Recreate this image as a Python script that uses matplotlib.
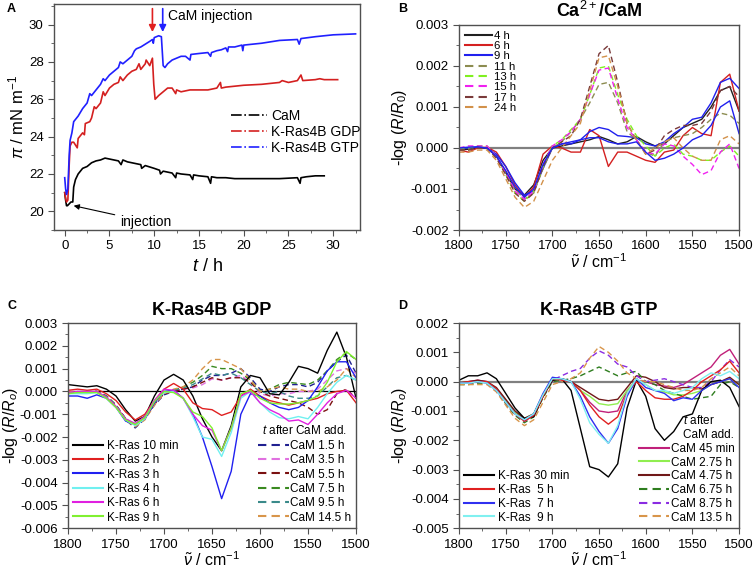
import numpy as np
import matplotlib
matplotlib.use("Agg")
import matplotlib.pyplot as plt
from matplotlib.lines import Line2D
from matplotlib.ticker import MultipleLocator, FormatStrFormatter

plt.rcParams['font.family'] = ['Liberation Sans', 'DejaVu Sans']
plt.rcParams['mathtext.fontset'] = 'custom'
plt.rcParams['mathtext.rm'] = 'Liberation Sans'
plt.rcParams['mathtext.it'] = 'Liberation Sans:italic'
plt.rcParams['mathtext.bf'] = 'Liberation Sans:bold'

# ---------------- panel A: surface pressure vs time ----------------
cam_trace = [(0.0, 21.0), (0.1, 20.6), (0.2, 20.3), (0.3, 20.3), (0.5, 20.4), (0.7, 20.5),
             (0.9, 20.5), (1.0, 21.3), (1.2, 21.7), (1.5, 22.0), (2.0, 22.3), (2.5, 22.4),
             (3.0, 22.6), (3.5, 22.7), (4.0, 22.75), (4.5, 22.85), (5.0, 22.8), (5.5, 22.75),
             (6.0, 22.7), (6.3, 22.5), (6.5, 22.75), (7.0, 22.65), (7.5, 22.6), (8.0, 22.55),
             (8.5, 22.5), (8.6, 22.3), (9.0, 22.45), (10.0, 22.3), (10.6, 22.2), (10.7, 22.0),
             (11.0, 22.15), (12.0, 22.05), (12.4, 21.8), (12.5, 22.05), (13.0, 22.0), (14.0, 21.95),
             (14.3, 21.7), (14.4, 21.95), (15.0, 21.9), (16.0, 21.85), (16.3, 21.5), (16.4, 21.85),
             (17.0, 21.8), (18.0, 21.8), (19.0, 21.75), (20.0, 21.75), (22.0, 21.75), (24.0, 21.75),
             (26.0, 21.8), (26.3, 21.5), (26.4, 21.8), (27.0, 21.85), (28.0, 21.9), (29.0, 21.9)]

gdp_trace = [(0.0, 21.0), (0.1, 20.7), (0.2, 20.5), (0.35, 20.6), (0.5, 22.5), (0.6, 23.5),
             (0.8, 23.7), (1.0, 23.7), (1.4, 23.4), (1.5, 23.9), (2.0, 24.2), (2.2, 24.1),
             (2.3, 24.7), (2.8, 24.8), (3.0, 25.0), (3.3, 25.6), (3.5, 25.5), (4.0, 25.8),
             (4.3, 26.4), (4.5, 26.2), (5.0, 26.6), (5.5, 26.8), (6.0, 26.9), (6.2, 27.2),
             (6.5, 27.0), (7.0, 27.3), (7.5, 27.5), (8.0, 27.6), (8.3, 27.9), (8.5, 27.6),
             (9.0, 27.9), (9.1, 28.1), (9.5, 27.8), (9.8, 28.2), (9.95, 26.8), (10.1, 26.0),
             (10.5, 26.2), (11.0, 26.4), (11.5, 26.6), (12.0, 26.6), (12.4, 26.3), (12.5, 26.5),
             (13.0, 26.4), (14.0, 26.5), (15.0, 26.5), (16.0, 26.5), (17.0, 26.6), (17.4, 26.9),
             (17.5, 26.6), (18.0, 26.65), (19.0, 26.7), (20.0, 26.75), (22.0, 26.8), (24.0, 26.9),
             (24.3, 27.0), (25.0, 26.9), (26.0, 27.0), (26.4, 27.3), (26.6, 27.0), (28.0, 27.05),
             (28.5, 27.1), (29.0, 27.05), (30.5, 27.05)]

gtp_trace = [(0.0, 21.8), (0.1, 21.2), (0.2, 20.9), (0.35, 21.2), (0.5, 23.0), (0.6, 23.8),
             (0.8, 24.2), (1.0, 24.8), (1.5, 25.1), (2.0, 25.5), (2.5, 25.8), (2.8, 26.3),
             (3.0, 26.2), (3.5, 26.5), (4.0, 26.8), (4.3, 27.1), (4.5, 27.0), (5.0, 27.3),
             (5.5, 27.5), (6.0, 27.7), (6.2, 28.0), (6.5, 27.9), (7.0, 28.1), (7.5, 28.3),
             (7.8, 28.6), (8.0, 28.7), (8.5, 28.8), (9.0, 28.95), (9.5, 29.1), (9.8, 29.2),
             (9.9, 29.0), (10.0, 29.3), (10.5, 29.4), (10.8, 29.35), (11.0, 27.8), (11.2, 27.7),
             (11.5, 27.9), (12.0, 28.1), (12.5, 28.2), (13.0, 28.3), (13.5, 28.3), (14.0, 28.1),
             (14.1, 28.4), (15.0, 28.45), (16.0, 28.5), (16.3, 28.3), (16.4, 28.5), (17.0, 28.6),
             (17.5, 28.65), (18.0, 28.75), (18.2, 28.55), (18.3, 28.8), (19.0, 28.8), (19.8, 28.9),
             (19.9, 28.6), (20.0, 28.9), (22.0, 29.0), (24.0, 29.15), (26.0, 29.2), (26.2, 28.95),
             (26.4, 29.25), (28.0, 29.35), (30.0, 29.45), (32.5, 29.5)]

# ---------------- spectra (values in 1e-3), 1800 -> 1500 cm-1 ----------------
wavenumber = np.arange(1800, 1499, -10)

b_labels = ['4 h', '6 h', '9 h', '11 h', '13 h', '15 h', '17 h', '24 h']
b_4h = [-0.05, -0.03, 0.0, 0.0, -0.2, -0.6, -1.0, -1.15, -0.9, -0.3, 0.0, 0.05, 0.1, 0.15, 0.2, 0.28,
        0.2, 0.1, 0.15, 0.28, 0.15, 0.05, 0.1, 0.3, 0.5, 0.6, 0.7, 1.0, 1.4, 1.5, 0.9]
b_6h = [-0.05, -0.1, 0.0, 0.02, -0.1, -0.45, -0.9, -1.2, -0.95, -0.15, 0.05, 0.0, -0.1, -0.1, 0.45, 0.3,
        -0.45, -0.1, -0.1, -0.2, -0.3, -0.35, -0.1, -0.05, 0.3, 0.5, 0.35, 0.3, 1.6, 1.8, 0.9]
b_9h = [0.0, 0.0, 0.02, 0.0, -0.15, -0.45, -0.85, -1.15, -1.05, -0.5, 0.0, 0.1, 0.1, 0.2, 0.4, 0.5,
        0.45, 0.3, 0.28, 0.25, 0.1, 0.05, 0.15, 0.35, 0.5, 0.7, 0.75, 1.1, 1.6, 1.7, 1.45]
b_9h_rep = [0.0, 0.02, 0.03, 0.0, -0.2, -0.55, -0.95, -1.2, -1.0, -0.4, 0.0, 0.1, 0.15, 0.2, 0.25, 0.25,
            0.15, 0.1, 0.1, 0.15, -0.1, -0.3, -0.25, -0.15, 0.0, 0.2, 0.3, 0.55, 1.0, 1.15, 0.35]
b_11h = [-0.05, -0.05, 0.0, 0.0, -0.2, -0.6, -1.0, -1.25, -1.1, -0.5, 0.0, 0.15, 0.4, 0.7, 1.1, 1.55,
         1.6, 1.1, 0.4, 0.2, -0.1, -0.2, 0.15, 0.25, 0.3, 0.35, 0.5, 0.7, 0.85, 0.8, 0.6]
b_13h = [0.0, 0.0, 0.05, 0.05, -0.2, -0.65, -1.1, -1.3, -1.05, -0.45, 0.05, 0.2, 0.45, 0.7, 1.3, 1.95,
         2.0, 1.3, 0.7, 0.3, 0.05, -0.2, 0.0, 0.1, -0.15, -0.2, -0.3, -0.3, -0.1, 0.05, -0.2]
b_15h = [0.0, 0.05, 0.05, 0.05, -0.2, -0.6, -1.05, -1.25, -1.05, -0.4, 0.05, 0.2, 0.4, 0.7, 1.3, 1.9,
         1.95, 1.2, 0.5, 0.2, -0.1, -0.15, 0.1, 0.05, -0.2, -0.4, -0.65, -0.55, -0.1, 0.1, -0.5]
b_17h = [-0.05, -0.05, 0.0, 0.0, -0.25, -0.65, -1.1, -1.3, -1.1, -0.45, 0.0, 0.15, 0.3, 0.7, 1.5, 2.3,
         2.5, 1.6, 0.6, 0.2, -0.15, -0.05, 0.3, 0.45, 0.55, 0.55, 0.6, 0.9, 1.4, 1.5, 1.25]
b_24h = [-0.1, -0.1, -0.05, -0.05, -0.3, -0.75, -1.2, -1.45, -1.3, -0.8, -0.3, 0.0, 0.3, 0.6, 1.4, 2.2,
         2.25, 1.5, 0.6, 0.2, -0.15, 0.0, 0.15, 0.25, 0.0, -0.2, -0.3, -0.3, 0.2, 0.3, 0.1]

c_labels_ras = ['K-Ras 10 min', 'K-Ras 2 h', 'K-Ras 3 h', 'K-Ras 4 h', 'K-Ras 6 h', 'K-Ras 9 h']
c_labels_cam = ['CaM 1.5 h', 'CaM 3.5 h', 'CaM 5.5 h', 'CaM 7.5 h', 'CaM 9.5 h', 'CaM 14.5 h']
c_10min = [0.3, 0.25, 0.2, 0.25, 0.1, -0.2, -0.8, -1.3, -1.1, -0.2, 0.5, 0.75, 0.5, -0.2, -1.2, -2.0,
           -2.6, -1.5, 0.2, 0.7, 0.6, -0.1, -0.15, 0.4, 1.1, 1.0, 0.8, 1.8, 2.6, 1.5, -0.3]
c_2h = [0.05, 0.1, 0.05, 0.1, -0.1, -0.4, -0.9, -1.25, -1.0, -0.4, 0.1, 0.35, 0.1, -0.5, -0.75, -0.8,
        -1.05, -0.9, -0.2, 0.1, -0.2, -0.4, -0.5, -0.6, -0.5, -0.4, -0.3, -0.1, 0.0, 0.05, -0.5]
c_3h = [-0.2, -0.2, -0.3, -0.15, -0.3, -0.7, -1.3, -1.45, -1.2, -0.5, 0.0, 0.05, -0.3, -1.0, -2.0, -3.3,
        -4.7, -3.5, -1.0, -0.1, -0.2, -0.5, -0.7, -0.8, -0.7, -0.4, 0.2, 0.9, 1.3, 1.3, 0.6]
c_4h = [-0.1, -0.1, -0.1, -0.05, -0.3, -0.7, -1.25, -1.5, -1.2, -0.4, -0.05, 0.0, -0.3, -1.1, -2.0, -2.1,
        -2.85, -1.8, -0.3, 0.0, -0.5, -0.9, -1.15, -1.2, -1.1, -1.2, -0.7, -0.1, 0.4, 0.7, 0.5]
c_6h = [-0.05, 0.0, 0.0, 0.0, -0.25, -0.65, -1.2, -1.4, -1.1, -0.4, 0.1, 0.05, -0.3, -1.0, -1.5, -1.7,
        -2.6, -1.6, -0.2, 0.0, -0.5, -0.8, -1.0, -1.3, -1.25, -1.45, -1.0, -0.5, -0.1, 0.05, -0.3]
c_9h = [-0.1, -0.05, -0.05, -0.05, -0.3, -0.7, -1.25, -1.45, -1.15, -0.45, 0.0, -0.05, -0.3, -0.9, -1.1, -1.6,
        -2.6, -1.6, -0.1, 0.05, -0.3, -0.5, -0.55, -0.55, -0.5, -0.4, -0.2, 0.4, 1.3, 1.75, 1.4]
c_cam15 = [0.0, -0.05, -0.05, 0.0, -0.25, -0.65, -1.25, -1.6, -1.2, -0.6, -0.15, 0.0, 0.1, 0.2, 0.5, 0.7,
           0.7, 0.8, 1.0, 0.6, 0.1, 0.0, 0.2, 0.3, 0.3, 0.2, 0.4, 0.9, 1.3, 1.6, 0.8]
c_cam35 = [0.0, 0.0, -0.05, 0.0, -0.2, -0.6, -1.2, -1.5, -1.15, -0.55, -0.1, 0.0, 0.1, 0.15, 0.3, 0.55,
           0.5, 0.6, 0.7, 0.4, -0.1, -0.2, -0.1, -0.1, 0.0, 0.0, 0.1, 0.5, 0.9, 1.0, 0.8]
c_cam55 = [0.0, -0.05, -0.05, 0.0, -0.2, -0.6, -1.2, -1.5, -1.2, -0.55, -0.1, 0.0, 0.1, 0.2, 0.4, 0.6,
           0.5, 0.6, 0.6, 0.4, 0.0, -0.2, -0.3, -0.4, -0.5, -0.7, -1.0, -0.8, -0.1, 0.1, -0.3]
c_cam75 = [0.0, -0.05, 0.0, 0.0, -0.2, -0.6, -1.2, -1.5, -1.15, -0.5, -0.05, 0.05, 0.2, 0.4, 0.7, 1.1,
           1.0, 1.0, 0.8, 0.5, 0.0, 0.1, 0.3, 0.4, 0.35, 0.3, 0.5, 0.9, 1.4, 1.7, 1.4]
c_cam95 = [0.0, -0.05, 0.0, 0.0, -0.2, -0.6, -1.2, -1.5, -1.15, -0.5, -0.05, 0.05, 0.15, 0.3, 0.55, 0.8,
           0.7, 0.8, 0.6, 0.3, 0.0, -0.1, 0.0, -0.2, -0.3, -0.3, -0.2, 0.2, 0.6, 0.7, 0.5]
c_cam145 = [0.0, -0.05, -0.05, 0.0, -0.25, -0.65, -1.25, -1.55, -1.25, -0.6, -0.1, 0.1, 0.2, 0.5, 1.0, 1.4,
            1.4, 1.2, 1.0, 0.5, 0.0, 0.1, 0.2, 0.1, 0.1, 0.0, 0.0, 0.2, 0.5, 1.0, 0.6]

d_labels_ras = ['K-Ras 30 min', 'K-Ras  5 h', 'K-Ras  7 h', 'K-Ras  9 h']
d_labels_cam = ['CaM 45 min', 'CaM 2.75 h', 'CaM 4.75 h', 'CaM 6.75 h', 'CaM 8.75 h', 'CaM 13.5 h']
d_30min = [0.05, 0.2, 0.2, 0.3, 0.1, -0.4, -0.9, -1.25, -1.2, -0.5, 0.05, 0.1, -0.3, -1.6, -2.9, -3.0,
           -3.25, -2.8, -0.9, 0.05, -0.5, -1.6, -2.0, -1.7, -1.2, -1.1, -0.3, 0.0, 0.05, -0.2, -0.85]
d_5h = [-0.05, 0.0, 0.0, 0.0, -0.25, -0.7, -1.1, -1.35, -1.15, -0.5, 0.1, 0.05, 0.0, -0.3, -0.8, -1.2,
        -1.45, -1.2, -0.4, 0.0, -0.3, -0.55, -0.6, -0.6, -0.5, -0.3, 0.0, 0.2, 0.4, 0.7, 0.3]
d_7h = [-0.05, -0.05, 0.0, -0.05, -0.3, -0.7, -1.1, -1.3, -1.1, -0.4, 0.15, 0.1, 0.0, -0.5, -1.2, -1.7,
        -2.1, -1.6, -0.5, 0.1, -0.2, -0.3, -0.4, -0.65, -0.55, -0.6, -0.3, -0.1, 0.0, 0.1, -0.2]
d_9h = [-0.05, -0.05, 0.0, -0.05, -0.3, -0.7, -1.1, -1.3, -1.1, -0.45, 0.1, 0.1, 0.0, -0.6, -1.4, -1.8,
        -2.1, -1.5, -0.4, 0.1, -0.1, -0.3, -0.3, -0.4, -0.3, -0.2, 0.1, 0.3, 0.2, 0.35, 0.1]
d_cam45m = [-0.05, 0.0, 0.05, 0.0, -0.25, -0.65, -1.05, -1.3, -1.15, -0.5, 0.05, 0.1, 0.0, -0.3, -0.7, -1.0,
            -1.05, -1.0, -0.3, 0.05, 0.0, -0.1, -0.15, -0.2, -0.1, 0.1, 0.3, 0.5, 0.9, 1.1, 0.6]
d_cam275 = [-0.05, 0.0, 0.0, 0.0, -0.25, -0.65, -1.05, -1.25, -1.1, -0.45, 0.1, 0.1, 0.0, -0.3, -0.5, -0.75,
            -0.8, -0.75, -0.3, 0.05, -0.1, -0.3, -0.35, -0.45, -0.45, -0.4, -0.3, -0.1, 0.0, 0.1, -0.1]
d_cam475 = [-0.05, 0.0, 0.05, 0.0, -0.2, -0.6, -1.0, -1.25, -1.1, -0.45, 0.05, 0.1, 0.0, -0.2, -0.4, -0.6,
            -0.65, -0.6, -0.2, 0.2, 0.15, 0.0, -0.2, -0.25, -0.2, -0.2, -0.25, -0.1, 0.0, 0.15, -0.1]
d_cam675 = [-0.1, -0.1, -0.05, -0.05, -0.3, -0.75, -1.15, -1.4, -1.2, -0.55, 0.0, 0.05, 0.1, 0.2, 0.35, 0.5,
            0.35, 0.2, 0.3, 0.35, 0.0, -0.1, -0.3, -0.4, -0.5, -0.6, -0.55, -0.5, -0.1, 0.0, -0.2]
d_cam875 = [-0.05, -0.05, 0.0, -0.05, -0.3, -0.7, -1.1, -1.35, -1.15, -0.5, 0.05, 0.2, 0.35, 0.45, 0.8, 1.05,
            0.9, 0.6, 0.5, 0.2, 0.0, 0.05, 0.1, 0.0, -0.1, -0.2, -0.2, 0.0, 0.4, 0.75, 0.5]
d_cam135 = [-0.1, -0.1, -0.1, -0.1, -0.35, -0.8, -1.25, -1.5, -1.3, -0.7, -0.1, 0.0, 0.1, 0.3, 0.8, 1.2,
            1.0, 0.7, 0.3, 0.1, 0.0, 0.0, -0.1, -0.2, -0.3, -0.3, -0.2, 0.1, 0.3, 0.5, 0.2]

DASH = (0, (4, 2.5))


def style_spectrum_axes(ax, ylo, yhi, zero_color, zero_lw):
    ax.axhline(0, color=zero_color, lw=zero_lw, zorder=1)
    ax.set_xlim(1800, 1500)
    ax.set_ylim(ylo, yhi)
    ax.xaxis.set_major_locator(MultipleLocator(50))
    ax.xaxis.set_minor_locator(MultipleLocator(25))
    ax.yaxis.set_major_locator(MultipleLocator(0.001))
    ax.yaxis.set_minor_locator(MultipleLocator(0.0005))
    ax.yaxis.set_major_formatter(FormatStrFormatter('%.3f'))
    ax.set_xlabel(r'$\tilde{\nu}$ / cm$^{-1}$', fontsize=11.5, labelpad=0)


def common_ticks(ax):
    for s in ax.spines.values():
        s.set_color('#505050')
        s.set_linewidth(1.0)
    ax.tick_params(which='both', direction='out', colors='#505050', labelcolor='black',
                   labelsize=9.5, top=False, right=False)
    ax.tick_params(which='major', length=4)
    ax.tick_params(which='minor', length=2.5)


fig = plt.figure(figsize=(7.54, 5.73), dpi=100)

# ---------- A ----------
axA = fig.add_axes([0.0716, 0.5986, 0.4059, 0.3944])
for trace, col in [(cam_trace, 'black'), (gdp_trace, '#d42020'), (gtp_trace, '#2020ff')]:
    t, p = zip(*trace)
    axA.plot(t, p, color=col, lw=1.2)
axA.set_xlim(-1.2, 33)
axA.set_ylim(19.0, 31.1)
axA.xaxis.set_major_locator(MultipleLocator(5))
axA.xaxis.set_minor_locator(MultipleLocator(2.5))
axA.yaxis.set_major_locator(MultipleLocator(2))
axA.yaxis.set_minor_locator(MultipleLocator(1))
common_ticks(axA)
axA.set_xlabel(r'$t$ / h', fontsize=13, labelpad=4)
axA.set_ylabel(r'$\pi$ / mN m$^{-1}$', fontsize=12, labelpad=2)
handlesA = [Line2D([], [], color='black', ls='-.', lw=1.2),
            Line2D([], [], color='#d42020', ls='-.', lw=1.2),
            Line2D([], [], color='#2020ff', ls='-.', lw=1.2)]
axA.legend(handlesA, ['CaM', 'K-Ras4B GDP', 'K-Ras4B GTP'], loc='upper left',
           bbox_to_anchor=(0.56, 0.56), frameon=False, fontsize=10, handlelength=2.6,
           labelspacing=0.15, handletextpad=0.3, borderaxespad=0)
axA.annotate('', xy=(9.8, 29.45), xytext=(9.8, 31.0),
             arrowprops=dict(arrowstyle='-|>', color='#e02020', lw=1.2, mutation_scale=10))
axA.annotate('', xy=(10.95, 29.45), xytext=(10.95, 31.0),
             arrowprops=dict(arrowstyle='-|>', color='#2020ff', lw=1.2, mutation_scale=10))
axA.text(11.5, 30.45, 'CaM injection', fontsize=10, va='center', ha='left')
axA.annotate('injection', xy=(1.0, 20.3), xytext=(6.2, 19.45), fontsize=10, va='center',
             arrowprops=dict(arrowstyle='-|>', color='black', lw=0.8, mutation_scale=8,
                             shrinkA=2, shrinkB=0))

# ---------- B ----------
axB = fig.add_axes([0.6088, 0.5986, 0.3714, 0.3578])
b_series = [b_4h, b_6h, b_9h, b_11h, b_13h, b_15h, b_17h, b_24h]
b_colors = ['#202020', '#d42020', '#2020ee', '#8c8c50', '#80f020', '#f020f0', '#7a3a3a', '#d2914a']
b_styles = ['-', '-', '-', DASH, DASH, DASH, DASH, DASH]
style_spectrum_axes(axB, -0.002, 0.003, '#808080', 1.6)
for vals, col, ls, lab in zip(b_series, b_colors, b_styles, b_labels):
    axB.plot(wavenumber, np.array(vals) * 1e-3, color=col, ls=ls, lw=1.0, label=lab)
axB.plot(wavenumber, np.array(b_9h_rep) * 1e-3, color='#2020ee', lw=1.0)
common_ticks(axB)
axB.set_ylabel(r'-log ($R$/$R_0$)', fontsize=11.5, labelpad=1)
axB.set_title(r'Ca$^{2+}$/CaM', fontsize=13, fontweight='bold', pad=6)
lb = axB.legend(loc='upper left', frameon=False, fontsize=8.2, handlelength=2.4,
                labelspacing=0.03, handletextpad=0.2, borderaxespad=0.2, borderpad=0.3)
for h in lb.get_lines():
    h.set_linewidth(1.5)

# ---------- C ----------
axC = fig.add_axes([0.0902, 0.0780, 0.3820, 0.3583])
style_spectrum_axes(axC, -0.006, 0.003, 'black', 0.9)
c_ras = [c_10min, c_2h, c_3h, c_4h, c_6h, c_9h]
c_ras_colors = ['black', '#e02020', '#2020f0', '#70f0f0', '#e020e0', '#80f030']
c_cam = [c_cam15, c_cam35, c_cam55, c_cam75, c_cam95, c_cam145]
c_cam_colors = ['#202090', '#e070e0', '#7a1010', '#3a8a20', '#3a8a8a', '#d8954a']
c1 = []
for vals, col, lab in zip(c_cam, c_cam_colors, c_labels_cam):
    c1 += axC.plot(wavenumber, np.array(vals) * 1e-3, color=col, ls=DASH, lw=1.0, label=lab)
c2 = []
for vals, col, lab in zip(c_ras, c_ras_colors, c_labels_ras):
    c2 += axC.plot(wavenumber, np.array(vals) * 1e-3, color=col, lw=1.0, label=lab)
common_ticks(axC)
axC.set_ylabel(r'-log ($R$/$R_o$)', fontsize=11.5, labelpad=0)
axC.set_title('K-Ras4B GDP', fontsize=13, fontweight='bold', pad=6)
lc1 = axC.legend(c2, c_labels_ras, loc='lower left', frameon=False, fontsize=8.5,
                 handlelength=2.6, labelspacing=0.2, handletextpad=0.3, borderaxespad=0.2,
                 borderpad=0.2)
axC.add_artist(lc1)
lc2 = axC.legend(c1, c_labels_cam, loc='lower right', frameon=False, fontsize=8.5,
                 handlelength=2.6, labelspacing=0.2, handletextpad=0.1, borderaxespad=0.2,
                 borderpad=0.2, title=r'$t$ after CaM add.', title_fontsize=8.5)
for leg in (lc1, lc2):
    for h in leg.get_lines():
        h.set_linewidth(1.5)

# ---------- D ----------
axD = fig.add_axes([0.6088, 0.0780, 0.3714, 0.3583])
style_spectrum_axes(axD, -0.005, 0.002, '#808080', 1.6)
d_ras = [d_30min, d_5h, d_7h, d_9h]
d_ras_colors = ['black', '#e02020', '#3030f0', '#80f0f0']
d_cam = [d_cam45m, d_cam275, d_cam475, d_cam675, d_cam875, d_cam135]
d_cam_colors = ['#c0207a', '#90ee50', '#701818', '#2e7d1e', '#8a2be2', '#d8954a']
d_cam_styles = ['-', '-', '-', DASH, DASH, DASH]
d1 = []
for vals, col, ls, lab in zip(d_cam, d_cam_colors, d_cam_styles, d_labels_cam):
    d1 += axD.plot(wavenumber, np.array(vals) * 1e-3, color=col, ls=ls, lw=1.0, label=lab)
d2 = []
for vals, col, lab in zip(d_ras, d_ras_colors, d_labels_ras):
    d2 += axD.plot(wavenumber, np.array(vals) * 1e-3, color=col, lw=1.0, label=lab)
common_ticks(axD)
axD.set_ylabel(r'-log ($R$/$R_o$)', fontsize=11.5, labelpad=1)
axD.set_title('K-Ras4B GTP', fontsize=13, fontweight='bold', pad=6)
ld1 = axD.legend(d2, d_labels_ras, loc='lower left', frameon=False, fontsize=8.5,
                 handlelength=2.6, labelspacing=0.15, handletextpad=0.3, borderaxespad=0.2,
                 borderpad=0.2)
axD.add_artist(ld1)
ld2 = axD.legend(d1, d_labels_cam, loc='lower right', frameon=False, fontsize=8.5,
                 handlelength=2.6, labelspacing=0.15, handletextpad=0.1, borderaxespad=0.2,
                 borderpad=0.2, title='$t$ after\nCaM add.', title_fontsize=8.5,
                 alignment='right')
for leg in (ld1, ld2):
    for h in leg.get_lines():
        h.set_linewidth(1.5)

# panel letters
for letter, px, py in [('A', 7, 9), ('B', 398, 9), ('C', 8, 306), ('D', 398, 306)]:
    fig.text(px / 754, 1 - py / 573, letter, fontsize=9, fontweight='bold', va='center')

fig.savefig('out.png', dpi=100)
